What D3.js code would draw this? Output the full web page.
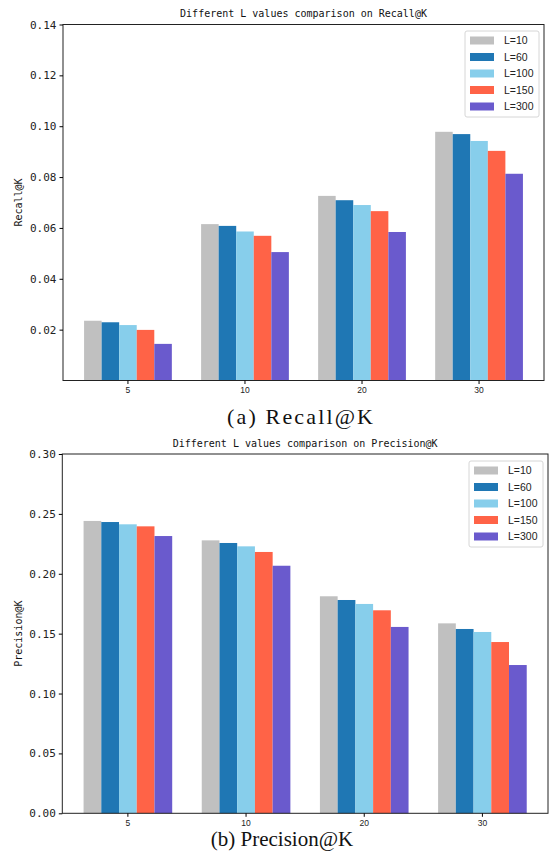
<!DOCTYPE html>
<html>
<head>
<meta charset="utf-8">
<script src="https://cdnjs.cloudflare.com/ajax/libs/d3/7.8.5/d3.min.js"></script>
<style>
  body { margin: 0; background: #fff; }
  svg { display: block; }
</style>
</head>
<body>
<div id="chart"></div>
<script>
// data
var k_values = ['5', '10', '20', '30'];
var series_names = ['L=10', 'L=60', 'L=100', 'L=150', 'L=300'];
var series_colors = ['#c0c0c0', '#1f77b4', '#87ceeb', '#ff6347', '#6a5acd'];

var recall_values = [
    [0.0235, 0.0615, 0.0726, 0.0978],   // L=10
    [0.0229, 0.0608, 0.0709, 0.0969],   // L=60
    [0.0218, 0.0586, 0.0690, 0.0942],   // L=100
    [0.0199, 0.0569, 0.0666, 0.0903],   // L=150
    [0.0144, 0.0505, 0.0584, 0.0813]    // L=300
];
var precision_values = [
    [0.2441, 0.2279, 0.1812, 0.1586],
    [0.2432, 0.2257, 0.1781, 0.1539],
    [0.2413, 0.2229, 0.1748, 0.1514],
    [0.2396, 0.2182, 0.1695, 0.1430],
    [0.2315, 0.2067, 0.1556, 0.1238]
];
var recall_ticks = [0.02, 0.04, 0.06, 0.08, 0.10, 0.12, 0.14];
var precision_ticks = [0.00, 0.05, 0.10, 0.15, 0.20, 0.25, 0.30];

var width = 550, height = 858;
var mono = '"DejaVu Sans Mono", monospace';

var svg = d3.select('#chart')
    .append('svg')
    .attr('width', width)
    .attr('height', height);

function draw_panel(cfg) {
    var x0 = d3.scaleBand()
        .domain(k_values)
        .range([cfg.left, cfg.right])
        .paddingInner(0.25)
        .paddingOuter(0.18);

    var x1 = d3.scaleBand()
        .domain(series_names)
        .range([0, x0.bandwidth()]);

    var y = d3.scaleLinear()
        .domain(cfg.domain)
        .range([cfg.bottom, cfg.top]);

    var g = svg.append('g');

    // bars
    series_names.forEach(function(name, si) {
        g.append('g')
            .selectAll('rect')
            .data(cfg.values[si])
            .enter()
            .append('rect')
            .attr('x', function(d, i) { return x0(k_values[i]) + x1(name); })
            .attr('width', x1.bandwidth())
            .attr('y', function(d) { return y(d); })
            .attr('height', function(d) { return y(cfg.domain[0]) - y(d); })
            .attr('fill', series_colors[si]);
    });

    // frame
    g.append('rect')
        .attr('x', cfg.left)
        .attr('y', cfg.top)
        .attr('width', cfg.right - cfg.left)
        .attr('height', cfg.bottom - cfg.top)
        .attr('fill', 'none')
        .attr('stroke', '#222')
        .attr('stroke-width', 1);

    // axes
    var yAxis = g.append('g')
        .attr('transform', `translate(${cfg.left},0)`)
        .call(d3.axisLeft(y).tickValues(cfg.ticks).tickSize(3.5).tickPadding(3)
            .tickFormat(function(d) { return d.toFixed(2); }));
    yAxis.select('.domain').remove();
    yAxis.selectAll('text')
        .style('font-family', mono)
        .style('font-size', '11px')
        .attr('fill', '#222');

    var xAxis = g.append('g')
        .attr('transform', `translate(0,${cfg.bottom})`)
        .call(d3.axisBottom(x0).tickSize(3.5).tickPadding(3));
    xAxis.select('.domain').remove();
    xAxis.selectAll('text')
        .style('font-family', '"Liberation Sans", Arial, sans-serif')
        .style('font-size', '8.5px')
        .attr('fill', '#222');

    // title
    g.append('text')
        .attr('x', (cfg.left + cfg.right) / 2)
        .attr('y', cfg.top - 7.5)
        .attr('text-anchor', 'middle')
        .style('font-family', mono)
        .style('font-size', '10px')
        .attr('fill', '#111')
        .text(cfg.title);

    // y label
    g.append('text')
        .attr('transform', `translate(${cfg.ylabel_x},${(cfg.top + cfg.bottom) / 2}) rotate(-90)`)
        .attr('text-anchor', 'middle')
        .attr('dy', '0.35em')
        .style('font-family', mono)
        .style('font-size', '10px')
        .attr('fill', '#111')
        .text(cfg.ylabel);

    // legend
    var lg = g.append('g')
        .attr('transform', `translate(${cfg.legend_x},${cfg.legend_y})`);
    lg.append('rect')
        .attr('width', 74)
        .attr('height', 86)
        .attr('rx', 2)
        .attr('fill', '#fff')
        .attr('stroke', '#d6d6d6')
        .attr('stroke-width', 1);
    var rows = lg.selectAll('g.row')
        .data(series_names)
        .enter()
        .append('g')
        .attr('class', 'row')
        .attr('transform', function(d, i) { return `translate(5,${9.5 + i * 16.5})`; });
    rows.append('rect')
        .attr('y', -4)
        .attr('width', 24)
        .attr('height', 8)
        .attr('fill', function(d, i) { return series_colors[i]; });
    rows.append('text')
        .attr('x', 34)
        .attr('dy', '0.36em')
        .style('font-family', '"Liberation Sans", Arial, sans-serif')
        .style('font-size', '10.5px')
        .attr('fill', '#222')
        .text(function(d) { return d; });

    // caption
    var cap = svg.append('text')
        .attr('x', cfg.caption_x)
        .attr('y', cfg.caption_y)
        .attr('text-anchor', 'middle')
        .style('font-family', '"Liberation Serif", "Times New Roman", serif')
        .style('font-size', cfg.caption_size + 'px')
        .attr('fill', '#111')
        .text(cfg.caption);
    if (cfg.caption_len) {
        cap.attr('textLength', cfg.caption_len).attr('lengthAdjust', 'spacing');
    }
}

draw_panel({
    left: 63, right: 544, top: 24.5, bottom: 380.5,
    domain: [0, 0.14], ticks: recall_ticks, values: recall_values,
    title: 'Different L values comparison on Recall@K',
    ylabel: 'Recall@K', ylabel_x: 18,
    legend_x: 465, legend_y: 31,
    caption: '(a) Recall@K', caption_x: 300, caption_y: 424, caption_size: 22, caption_len: 146
});

draw_panel({
    left: 62.3, right: 548, top: 454, bottom: 813.3,
    domain: [0, 0.30], ticks: precision_ticks, values: precision_values,
    title: 'Different L values comparison on Precision@K',
    ylabel: 'Precision@K', ylabel_x: 18,
    legend_x: 469, legend_y: 461,
    caption: '(b) Precision@K', caption_x: 282, caption_y: 846, caption_size: 21, caption_len: 0
});
</script>
</body>
</html>
